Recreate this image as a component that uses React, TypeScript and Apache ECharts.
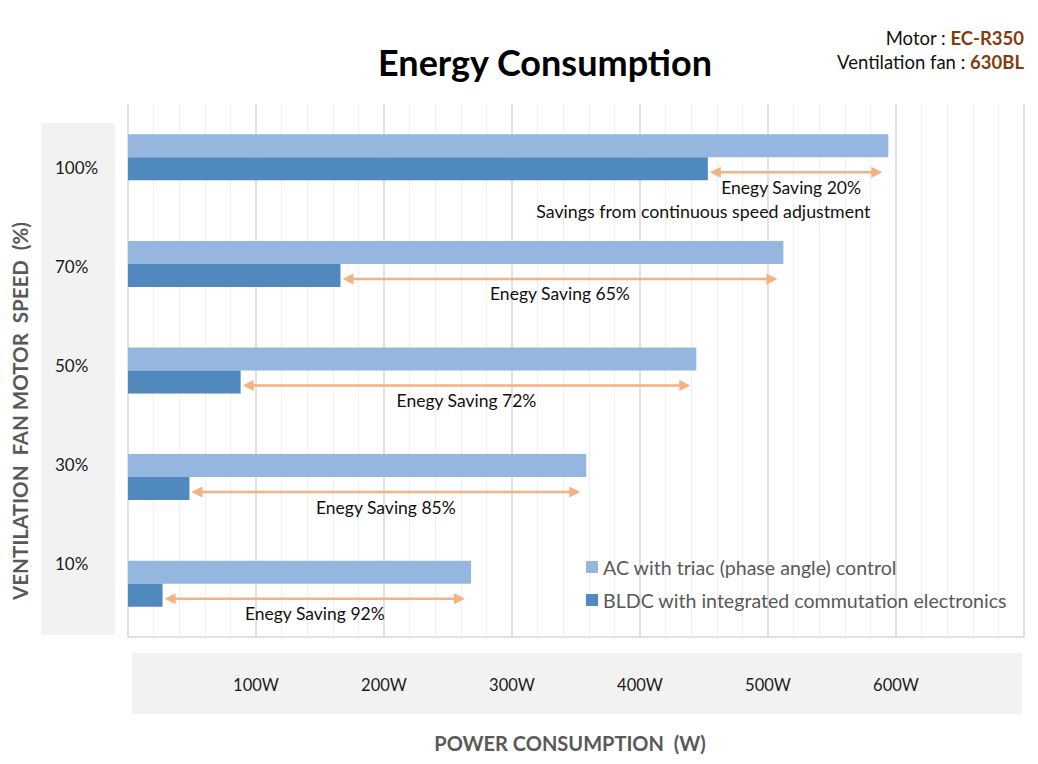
import React, { useEffect, useRef } from "react";
import * as echarts from "echarts";

const speeds = ["100%", "70%", "50%", "30%", "10%"];
const acPower = [594, 512, 444, 358, 268];
const bldcPower = [453, 166, 88, 48, 27];
const savingPct = [20, 65, 72, 85, 92];
const savingNotes = ["Savings from continuous speed adjustment", "", "", "", ""];
const xTickLabels = ["", "100W", "200W", "300W", "400W", "500W", "600W", ""];
const seriesNames = [
  "AC with triac (phase angle) control",
  "BLDC with integrated commutation electronics",
];

const FONT = "Lato, 'Open Sans', sans-serif";
const AC_COLOR = "#95B7DF";
const BLDC_COLOR = "#4F89BD";
const ORANGE = "#F4B183";

export default function App() {
  const ref = useRef<HTMLDivElement>(null);
  useEffect(() => {
    if (!ref.current) return;
    const chart = echarts.init(ref.current, undefined, { renderer: "svg" });
    const option: any = {
      animation: false,
      backgroundColor: "#ffffff",
      textStyle: { fontFamily: FONT },
      grid: [
        { left: 128, right: 14, top: 104, bottom: 127 },
        { left: 0, width: 47, top: 118, bottom: 151 },
      ],
      xAxis: [
        {
          type: "value",
          gridIndex: 0,
          min: 0,
          max: 700,
          interval: 100,
          axisLine: { show: true, lineStyle: { color: "#d9d9d9", width: 1.5 } },
          axisTick: { show: false },
          axisLabel: {
            margin: 39,
            fontSize: 16.5,
            color: "#1a1a1a",
            fontFamily: FONT,
            formatter: (v: number) => xTickLabels[Math.round(v / 100)] ?? "",
          },
          splitLine: { show: true, lineStyle: { color: "#d9d9d9", width: 1.5 } },
          minorTick: { show: false, splitNumber: 5 },
          minorSplitLine: { show: true, lineStyle: { color: "#efefef", width: 1 } },
        },
        { type: "value", gridIndex: 1, show: false },
      ],
      yAxis: [
        {
          type: "category",
          gridIndex: 0,
          data: speeds,
          inverse: true,
          axisLabel: { show: false },
          axisTick: { show: false },
          axisLine: { show: false },
          splitLine: { show: false },
        },
        {
          type: "category",
          gridIndex: 1,
          data: speeds,
          inverse: true,
          position: "right",
          axisLabel: {
            margin: 8,
            fontSize: 17,
            color: "#1a1a1a",
            align: "left",
            fontFamily: FONT,
          },
          axisTick: { show: false },
          axisLine: { show: false },
          splitLine: { show: false },
        },
      ],
      legend: {
        data: seriesNames,
        orient: "vertical",
        left: 586,
        top: 557,
        padding: 0,
        itemWidth: 12,
        itemHeight: 12,
        itemGap: 13,
        icon: "rect",
        textStyle: { fontSize: 19.6, color: "#595959", fontFamily: FONT },
      },
      series: [
        {
          name: seriesNames[0],
          type: "bar",
          xAxisIndex: 0,
          yAxisIndex: 0,
          data: acPower,
          barWidth: 23,
          barGap: "0%",
          itemStyle: { color: AC_COLOR },
        },
        {
          name: seriesNames[1],
          type: "bar",
          xAxisIndex: 0,
          yAxisIndex: 0,
          data: bldcPower,
          barWidth: 23,
          barGap: "0%",
          itemStyle: { color: BLDC_COLOR },
        },
        {
          type: "custom",
          xAxisIndex: 0,
          yAxisIndex: 0,
          z: 5,
          clip: false,
          silent: true,
          data: speeds.map((_, i) => [bldcPower[i], acPower[i], i, savingPct[i]]),
          encode: { x: [0, 1], y: 2 },
          renderItem: (params: any, api: any) => {
            const i = api.value(2);
            const a = api.coord([api.value(0), i]);
            const b = api.coord([api.value(1), i]);
            const y = a[1] + 15;
            const x1 = a[0] + 2;
            const x2 = b[0] - 6;
            const hl = 11;
            const hw = 5.5;
            const note = savingNotes[params.dataIndex];
            const children: any[] = [
              {
                type: "line",
                shape: { x1: x1 + hl - 1, y1: y, x2: x2 - hl + 1, y2: y },
                style: { stroke: ORANGE, lineWidth: 2.5 },
              },
              {
                type: "polygon",
                shape: { points: [[x1, y], [x1 + hl, y - hw], [x1 + hl, y + hw]] },
                style: { fill: ORANGE },
              },
              {
                type: "polygon",
                shape: { points: [[x2, y], [x2 - hl, y - hw], [x2 - hl, y + hw]] },
                style: { fill: ORANGE },
              },
              {
                type: "text",
                x: (x1 + x2) / 2 - (note ? 5 : 0),
                y: y + 15,
                style: {
                  text: `Enegy Saving ${api.value(3)}%`,
                  align: "center",
                  verticalAlign: "middle",
                  fontSize: 17.5,
                  fill: "#111111",
                  fontFamily: FONT,
                },
              },
            ];
            if (note) {
              children.push({
                type: "text",
                x: x2 - 12,
                y: y + 39,
                style: {
                  text: note,
                  align: "right",
                  verticalAlign: "middle",
                  fontSize: 17.8,
                  fill: "#111111",
                  fontFamily: FONT,
                },
              });
            }
            return { type: "group", children };
          },
        },
      ],
      graphic: [
        {
          type: "rect",
          z: -10,
          shape: { x: 41, y: 123, width: 74, height: 512 },
          style: { fill: "#f2f2f2" },
        },
        {
          type: "rect",
          z: -10,
          shape: { x: 132, y: 653, width: 890, height: 61 },
          style: { fill: "#f2f2f2" },
        },
        {
          type: "text",
          x: 545,
          y: 62,
          style: {
            text: "Energy Consumption",
            align: "center",
            verticalAlign: "middle",
            fontSize: 36,
            fontWeight: "bold",
            fill: "#000000",
            fontFamily: FONT,
          },
        },
        {
          type: "text",
          x: 1024,
          y: 38,
          style: {
            text: "{a|Motor : }{b|EC-R350}",
            align: "right",
            verticalAlign: "middle",
            rich: {
              a: { fontSize: 18.5, fill: "#111111", fontFamily: FONT },
              b: { fontSize: 18.5, fontWeight: "bold", fill: "#843C0C", fontFamily: FONT },
            },
          },
        },
        {
          type: "text",
          x: 1024,
          y: 62,
          style: {
            text: "{a|Ventilation fan : }{b|630BL}",
            align: "right",
            verticalAlign: "middle",
            rich: {
              a: { fontSize: 18.5, fill: "#111111", fontFamily: FONT },
              b: { fontSize: 18.5, fontWeight: "bold", fill: "#843C0C", fontFamily: FONT },
            },
          },
        },
        {
          type: "text",
          x: 20,
          y: 411,
          rotation: Math.PI / 2,
          style: {
            text: "VENTILATION  FAN MOTOR  SPEED  (%)",
            align: "center",
            verticalAlign: "middle",
            fontSize: 20.5,
            fontWeight: "bold",
            fill: "#595959",
            fontFamily: FONT,
          },
        },
        {
          type: "text",
          x: 570,
          y: 743,
          style: {
            text: "POWER CONSUMPTION  (W)",
            align: "center",
            verticalAlign: "middle",
            fontSize: 20,
            fontWeight: "bold",
            fill: "#595959",
            fontFamily: FONT,
          },
        },
      ],
    };
    chart.setOption(option);
    return () => chart.dispose();
  }, []);
  return (
    <div
      ref={ref}
      style={{ position: "fixed", left: 0, top: 0, width: 1038, height: 764 }}
    />
  );
}
